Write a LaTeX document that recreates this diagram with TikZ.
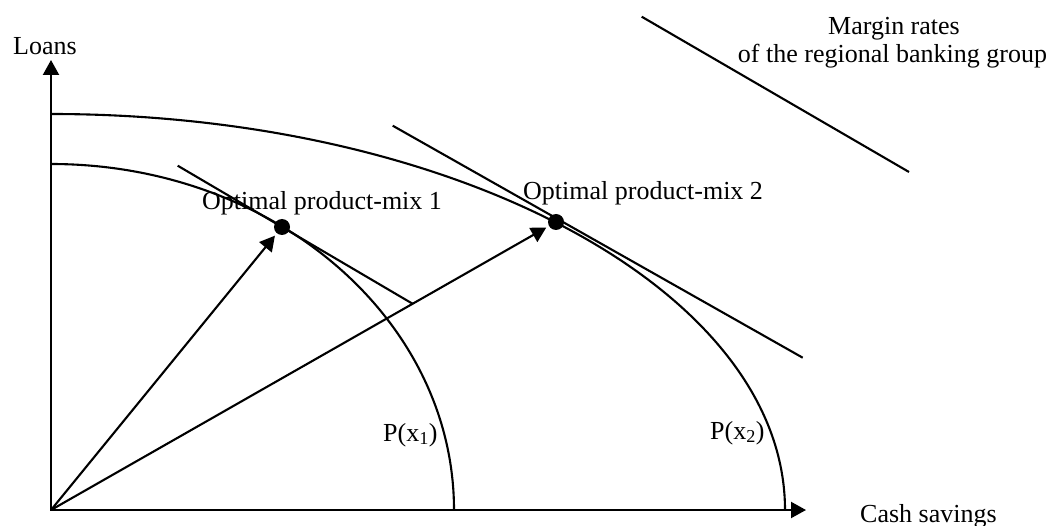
\documentclass[tikz,border=0pt]{standalone}
\usepackage{fontspec}
\setmainfont{Liberation Serif}
\usetikzlibrary{arrows.meta}
\begin{document}
\begin{tikzpicture}[x=1pt,y=-1pt,
  ln/.style={line width=2.1pt, line cap=butt},
  arr/.style={ln, -{Triangle[length=15pt,width=16pt]}},
  lbl/.style={inner sep=0pt, anchor=base west, font=\fontsize{26}{29}\selectfont},
  dot/.style={circle, fill=black, inner sep=0pt, minimum size=16pt}]
\useasboundingbox (0,0) rectangle (1056,526);
% coordinates
\coordinate (O) at (51,510);
\coordinate (ytip) at (51,60);
\coordinate (xtip) at (806,510);
\coordinate (t1a) at (177.7,165.7);
\coordinate (t1b) at (413,304);
\coordinate (t2a) at (392.7,125.7);
\coordinate (t2b) at (802.7,357.7);
\coordinate (m1) at (641.7,16.7);
\coordinate (m2) at (909,172);
% axes
\draw[arr] ([yshift=1pt]O) -- (ytip);
\draw[arr] ([xshift=-1pt]O) -- (xtip);
% production possibility curves
\draw[ln] (51,164) arc[start angle=-90, end angle=0, x radius=403, y radius=346];
\draw[ln] (51,114) arc[start angle=-90, end angle=0, x radius=734, y radius=396];
% tangent lines
\draw[ln] (t1a) -- (t1b);
\draw[ln] (t2a) -- (t2b);
\draw[ln] (m1) -- (m2);
% optimal points
\node[dot] (p1) at (282,227) {};
\node[dot] (p2) at (556,222) {};
\draw[arr, shorten >=3pt] (O) -- (p1);
\draw[arr, shorten >=3pt] (O) -- (p2);
% labels
\node[lbl] (loans) at (13,55) {Loans};
\node[lbl] (cash) at (860,522) {Cash savings};
\node[lbl] (opt1) at (202,210) {Optimal product-mix 1};
\node[lbl] (opt2) at (523,200) {Optimal product-mix 2};
\node[lbl] (px1) at (383,441) {P(x\textsubscript{1})};
\node[lbl] (px2) at (710,439) {P(x\textsubscript{2})};
\node[lbl, anchor=base] (marg1) at (894,35) {Margin rates};
\node[lbl, anchor=base] (marg2) at (892.5,63) {of the regional banking group};
\end{tikzpicture}
\end{document}
